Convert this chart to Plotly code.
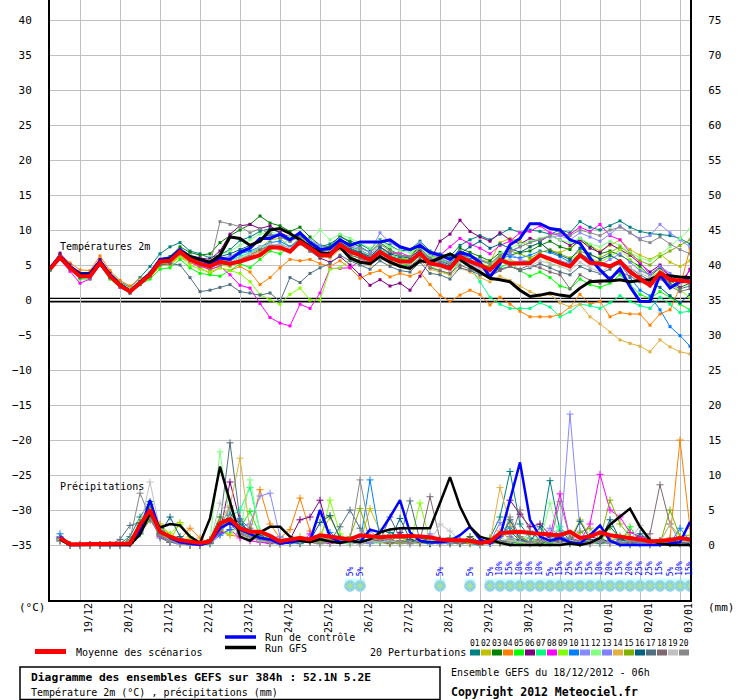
import plotly.graph_objects as go

# one step = 6h, starting 18/12/2012 06h (0 -> 384h)
steps = list(range(65))

day_labels = ["19/12", "20/12", "21/12", "22/12", "23/12", "24/12", "25/12", "26/12",
              "27/12", "28/12", "29/12", "30/12", "31/12", "01/01", "02/01", "03/01"]
day_steps = [3, 7, 11, 15, 19, 23, 27, 31, 35, 39, 43, 47, 51, 55, 59, 63]

# ---- temperature 2m (degC) ----
t_mean = [4.4, 6.1, 4.6, 3.4, 3.4, 5.3, 3.4, 2.1, 1.2, 2.4, 3.6, 5.5, 5.6,
          6.9, 5.8, 5.2, 4.8, 5.5, 5.2, 5.5, 6.0, 6.4, 7.5, 7.5, 6.9, 8.3,
          7.4, 6.4, 6.4, 7.9, 6.9, 6.4, 5.7, 6.9, 6.0, 5.5, 5.5, 6.7, 5.2,
          5.0, 4.5, 6.2, 5.5, 5.0, 4.3, 5.7, 5.2, 5.3, 5.3, 6.4, 5.8, 5.3,
          4.8, 6.4, 5.3, 5.2, 4.8, 5.5, 4.0, 3.1, 2.1, 3.9, 2.9, 2.8, 2.6]
t_ctrl = [4.6, 6.2, 4.8, 3.8, 3.8, 5.6, 3.6, 2.2, 1.3, 2.6, 3.8, 5.8, 6.0,
          7.2, 6.2, 5.8, 5.2, 6.0, 5.8, 6.8, 7.4, 8.8, 8.8, 9.4, 8.6, 9.6,
          8.2, 7.2, 7.4, 8.6, 7.8, 8.3, 8.3, 8.3, 8.6, 7.6, 7.2, 7.8, 6.8,
          6.4, 5.8, 6.8, 6.4, 5.4, 3.3, 5.2, 7.9, 8.8, 10.9, 10.9, 10.2, 10.0,
          8.6, 8.1, 6.0, 4.3, 2.9, 4.5, 1.9, -0.2, -0.2, 3.6, 1.7, 2.6, 3.2]
t_gfs = [4.5, 6.1, 4.7, 3.6, 3.6, 5.4, 3.5, 2.2, 1.2, 2.5, 3.7, 5.6, 5.8,
         7.0, 6.2, 5.8, 5.4, 6.4, 9.0, 8.8, 7.8, 8.4, 10.0, 10.2, 9.5, 8.6,
         7.6, 6.8, 6.6, 7.6, 6.0, 5.4, 5.2, 6.2, 5.4, 4.8, 4.5, 5.6, 5.4,
         6.0, 6.6, 5.8, 4.8, 4.0, 3.1, 2.9, 2.6, 1.4, 0.5, 0.7, 1.0, 0.7,
         0.5, 1.7, 2.6, 2.7, 2.7, 2.9, 2.6, 2.8, 2.9, 3.6, 3.4, 3.3, 3.2]

t01 = [4.6, 6.4, 5.0, 3.8, 3.6, 5.8, 3.9, 2.6, 1.8, 3.2, 4.8, 6.6, 7.6,
       8.2, 7.0, 6.6, 6.0, 6.5, 7.2, 8.5, 9.0, 9.8, 10.2, 9.6, 8.8, 9.4,
       8.4, 7.6, 8.0, 9.0, 8.4, 8.0, 7.2, 8.6, 7.8, 7.0, 7.2, 8.4, 7.0,
       6.6, 6.2, 7.8, 8.6, 9.2, 8.6, 9.4, 10.2, 9.6, 10.0, 9.8, 9.4, 10.0,
       9.6, 11.2, 10.4, 10.0, 10.6, 11.3, 10.4, 9.8, 9.5, 9.3, 9.2, 8.8, 8.0]
t02 = [4.3, 5.9, 4.8, 3.6, 3.9, 5.7, 3.8, 2.4, 1.5, 2.5, 3.2, 4.8, 5.2,
       6.4, 5.6, 5.0, 4.2, 5.0, 4.8, 5.8, 6.5, 7.4, 8.6, 8.8, 7.6, 8.9,
       7.8, 6.6, 6.2, 8.4, 7.2, 6.8, 6.0, 7.6, 6.8, 6.4, 6.0, 7.6, 5.8,
       5.6, 5.2, 7.0, 6.4, 5.8, 5.4, 8.2, 8.8, 8.4, 7.6, 8.2, 7.0, 6.8,
       7.4, 8.4, 7.8, 7.0, 7.8, 8.6, 7.2, 6.4, 5.8, 6.6, 5.4, 4.8, 5.6]
t03 = [4.5, 6.2, 4.7, 3.6, 3.6, 5.4, 3.5, 2.2, 1.3, 2.6, 3.8, 5.8, 6.2,
       7.6, 6.8, 6.4, 6.6, 8.2, 9.2, 10.0, 10.8, 12.0, 11.0, 10.6, 9.8, 10.4,
       9.0, 7.8, 7.6, 9.2, 8.2, 7.6, 6.8, 8.2, 7.2, 6.4, 6.2, 7.8, 6.4,
       5.8, 5.4, 7.4, 6.8, 6.2, 5.6, 6.8, 6.4, 6.8, 7.0, 7.8, 8.4, 7.6,
       7.2, 8.8, 7.8, 6.6, 7.0, 6.4, 5.6, 4.8, 3.4, 4.6, 2.8, 1.8, 2.4]
t04 = [4.8, 6.5, 5.3, 4.3, 4.2, 6.3, 4.2, 2.8, 2.0, 3.0, 3.8, 5.2, 5.0,
       6.2, 5.4, 4.6, 3.8, 4.6, 4.2, 4.8, 4.0, 2.2, 3.2, 4.6, 5.8, 5.6,
       5.8, 5.2, 4.8, 5.6, 4.6, 3.1, 3.8, 4.2, 3.3, 3.8, 3.4, 4.0, 2.2,
       0.7, -0.2, 0.7, 1.4, 0.8, -0.7, 0.4, -0.6, -1.6, -2.4, -2.4, -2.4, -2.1,
       -1.0, 0.8, -0.6, -0.2, -2.4, -1.8, -2.0, -2.0, -3.6, -2.0, -1.4, 1.8, 7.4]
t05 = [4.2, 5.8, 4.4, 3.0, 3.0, 5.0, 3.0, 1.8, 1.0, 2.2, 3.0, 4.4, 4.6,
       5.8, 4.6, 3.8, 3.6, 3.4, 4.2, 5.2, 4.6, 5.8, 7.0, 6.6, 7.6, 8.8,
       7.2, 6.0, 6.4, 7.6, 6.4, 6.0, 5.6, 6.8, 5.8, 5.2, 5.0, 6.4, 4.8,
       4.2, 3.6, 5.6, 5.0, 3.8, 3.6, 4.6, 5.4, 4.2, 3.4, 4.0, 3.2, 2.0,
       1.6, 3.0, 2.2, 1.8, 2.4, 3.6, 2.2, 0.8, 0.2, 1.2, 0.4, -0.6, -1.4]
t06 = [4.6, 6.7, 5.0, 3.8, 3.8, 5.8, 3.8, 2.4, 1.4, 2.6, 3.8, 5.6, 5.8,
       7.2, 6.4, 6.0, 5.8, 7.0, 9.4, 10.6, 10.8, 10.2, 10.6, 9.6, 9.0, 8.6,
       7.0, 6.0, 5.4, 6.2, 5.0, 3.6, 2.1, 2.9, 2.0, 2.4, 1.4, 3.4, 5.6,
       8.4, 9.4, 11.4, 9.8, 9.0, 8.4, 9.6, 8.6, 8.0, 8.8, 8.4, 9.2, 8.6,
       7.8, 8.6, 7.4, 6.8, 8.0, 7.2, 6.4, 5.2, 4.0, 5.0, 3.4, 1.8, 4.4]
t07 = [4.3, 6.0, 4.5, 3.2, 3.2, 5.1, 3.2, 2.0, 1.2, 2.5, 3.6, 5.4, 5.8,
       7.0, 6.0, 5.4, 5.0, 5.8, 5.6, 6.2, 6.8, 7.4, 8.0, 7.6, 8.8, 9.2,
       8.0, 7.4, 7.0, 8.2, 7.6, 7.0, 6.2, 7.4, 6.4, 6.0, 5.8, 6.6, 5.4,
       5.0, 4.4, 5.6, 4.6, 2.6, 0.4, -0.6, -1.2, -1.2, -1.2, -0.4, -1.0, -2.4,
       -1.7, -0.6, -0.8, -1.2, -0.4, 0.6, -0.2, -0.8, -1.2, 0.4, -0.6, -1.8, -1.6]
t08 = [4.4, 5.8, 4.1, 2.4, 3.0, 5.0, 3.2, 1.8, 1.0, 2.4, 3.6, 5.2, 5.4,
       6.6, 5.4, 4.8, 4.4, 4.8, 3.6, 2.1, 1.7, -0.5, -2.5, -3.3, -3.7, -0.6,
       -1.2, 1.0, 4.5, 4.5, 4.6, 5.6, 6.0, 7.6, 6.6, 6.8, 6.2, 7.0, 5.4,
       6.4, 7.6, 8.8, 8.0, 7.4, 6.6, 7.8, 8.4, 9.6, 9.8, 10.6, 9.6, 9.2,
       9.4, 10.4, 9.8, 10.8, 9.2, 8.6, 6.8, 5.4, 3.6, 4.8, 3.2, 2.6, 4.2]
t09 = [4.5, 6.0, 4.5, 3.3, 3.2, 5.2, 3.3, 2.0, 1.1, 2.2, 3.4, 5.0, 5.2,
       6.2, 5.0, 4.4, 4.0, 4.6, 4.2, 3.8, 2.6, 0.8, 0.0, -0.6, 0.8, 1.7,
       0.0, 0.0, 4.4, 4.6, 5.8, 5.2, 5.6, 6.8, 6.0, 5.6, 6.2, 8.2, 6.4,
       5.8, 5.0, 6.4, 6.0, 5.4, 4.6, 6.0, 5.6, 5.2, 5.8, 6.4, 5.2, 4.8,
       5.8, 6.6, 6.0, 5.4, 6.2, 7.2, 5.8, 4.4, 3.4, 4.0, 2.2, 1.4, 0.4]
t10 = [4.4, 6.0, 4.6, 3.4, 3.4, 5.4, 3.4, 2.1, 1.2, 2.4, 3.6, 5.6, 5.8,
       7.0, 6.0, 5.6, 5.2, 6.0, 5.8, 6.6, 7.0, 7.6, 8.2, 8.4, 7.6, 8.6,
       7.6, 6.8, 6.8, 8.0, 7.2, 6.8, 6.0, 7.2, 6.2, 5.8, 5.6, 7.0, 5.6,
       5.4, 4.8, 6.6, 6.0, 5.8, 5.0, 6.4, 6.2, 6.0, 6.4, 7.0, 6.8, 6.2,
       5.4, 6.6, 5.8, 5.0, 4.8, 5.2, 3.2, 1.4, 0.6, -1.4, -3.8, -5.1, -6.6]
t11 = [4.5, 6.2, 4.8, 3.6, 3.6, 5.5, 3.6, 2.2, 1.4, 2.6, 3.8, 5.6, 5.8,
       7.0, 6.2, 5.8, 5.4, 6.0, 6.2, 7.0, 7.6, 8.4, 9.2, 9.4, 8.6, 9.4,
       8.6, 7.8, 7.2, 8.8, 7.8, 7.4, 6.8, 9.6, 8.2, 7.4, 7.0, 8.2, 6.6,
       6.0, 5.4, 6.6, 6.4, 5.8, 5.2, 6.2, 6.8, 7.6, 8.2, 8.8, 9.0, 9.2,
       8.6, 9.6, 9.0, 8.4, 9.4, 10.6, 9.6, 8.8, 9.2, 10.8, 9.6, 8.6, 7.6]
t12 = [4.6, 6.2, 4.8, 3.5, 3.6, 5.4, 3.6, 2.4, 1.6, 2.8, 4.0, 5.8, 6.0,
       7.2, 6.4, 5.8, 5.6, 6.4, 7.0, 7.8, 8.6, 9.4, 9.8, 9.2, 9.0, 9.6,
       8.4, 10.0, 8.6, 9.4, 8.8, 8.2, 7.4, 8.4, 7.6, 7.0, 6.8, 7.6, 6.2,
       5.8, 5.2, 6.8, 6.2, 5.6, 5.0, 6.6, 7.4, 8.0, 8.4, 8.8, 9.2, 8.6,
       8.2, 8.8, 8.0, 7.6, 8.4, 7.8, 6.8, 6.0, 5.6, 6.4, 7.6, 8.8, 10.1]
t13 = [4.4, 6.1, 4.5, 3.3, 3.4, 5.2, 3.3, 2.0, 1.2, 2.4, 3.6, 5.4, 5.6,
       6.8, 5.8, 5.2, 4.8, 5.4, 5.2, 5.8, 6.2, 7.0, 7.8, 8.0, 7.4, 8.8,
       7.6, 6.8, 6.6, 7.8, 7.0, 6.4, 5.8, 7.0, 6.0, 5.6, 5.4, 6.8, 5.0,
       4.8, 4.2, 6.0, 5.2, 4.6, 4.0, 5.4, 6.6, 5.8, 5.4, 6.4, 6.0, 5.6,
       5.2, 6.4, 5.6, 5.0, 5.8, 6.6, 5.4, 4.2, 3.6, 4.8, 3.8, 3.0, 2.4]
t14 = [4.5, 6.0, 4.6, 3.4, 3.4, 5.2, 3.4, 2.0, 1.3, 2.6, 3.8, 5.2, 5.4,
       6.4, 5.4, 5.0, 4.6, 5.2, 5.0, 5.6, 6.2, 7.0, 7.6, 7.2, 7.0, 8.0,
       7.0, 6.2, 6.0, 7.2, 6.2, 5.6, 5.0, 6.2, 5.2, 4.8, 4.6, 5.6, 4.4,
       4.0, 3.6, 4.6, 4.0, 3.2, 2.6, 3.4, 2.8, 2.0, 1.2, 0.6, 0.8, -0.4,
       -1.0, -0.6, -2.4, -3.4, -4.6, -5.7, -6.2, -6.6, -7.4, -5.7, -6.7, -7.4, -7.7]
t15 = [4.3, 5.9, 4.4, 3.2, 3.3, 5.1, 3.3, 2.0, 1.2, 2.3, 3.4, 5.2, 5.4,
       6.6, 5.6, 5.0, 4.6, 5.2, 5.0, 5.6, 6.0, 6.6, 7.4, 7.8, 7.0, 8.4,
       7.2, 6.4, 6.2, 7.6, 6.8, 6.2, 5.6, 7.0, 6.2, 5.8, 5.6, 6.8, 5.4,
       5.0, 4.6, 6.0, 5.6, 5.0, 4.8, 6.2, 7.0, 6.6, 6.0, 6.8, 7.2, 6.6,
       6.0, 7.0, 6.4, 6.0, 6.8, 7.6, 6.6, 5.6, 5.0, 6.2, 7.0, 7.8, 8.6]
t16 = [4.4, 6.2, 4.6, 3.4, 3.5, 5.3, 3.5, 2.2, 1.3, 2.6, 3.8, 5.6, 5.8,
       7.2, 6.2, 5.8, 5.4, 6.2, 6.6, 7.2, 7.8, 8.6, 9.4, 9.0, 8.4, 9.2,
       8.2, 7.2, 7.0, 8.2, 7.4, 6.8, 6.2, 7.6, 6.6, 6.2, 6.0, 7.2, 5.8,
       5.6, 5.0, 6.6, 7.6, 8.4, 7.4, 8.0, 7.4, 6.8, 7.6, 8.2, 7.0, 6.4,
       5.8, 7.4, 6.6, 5.8, 6.4, 5.6, 4.4, 3.2, 2.6, 1.8, 0.6, -0.4, 0.8]
t17 = [4.3, 5.8, 4.4, 3.2, 3.2, 5.0, 3.2, 1.9, 1.0, 2.2, 3.4, 5.0, 5.2,
       5.0, 3.2, 1.2, 1.4, 1.8, 2.2, 1.2, 1.0, 0.7, 1.0, -0.2, 3.2, 2.5,
       3.8, 4.6, 5.2, 6.4, 5.6, 5.0, 4.4, 5.6, 4.8, 4.2, 4.0, 5.4, 3.8,
       3.6, 3.0, 4.6, 4.2, 3.6, 3.4, 4.4, 4.8, 4.2, 4.6, 5.2, 4.6, 4.0,
       3.6, 4.8, 4.2, 3.8, 4.4, 5.4, 4.6, 3.6, 2.8, 3.6, 2.4, 1.6, 2.0]
t18 = [4.4, 6.0, 4.5, 3.3, 3.3, 5.2, 3.3, 2.0, 1.1, 2.3, 3.5, 5.3, 5.5,
       6.6, 5.6, 5.0, 4.6, 5.2, 5.0, 5.8, 6.4, 7.2, 7.8, 7.6, 7.2, 8.0,
       7.0, 6.2, 6.2, 7.4, 6.4, 6.0, 5.2, 6.4, 5.6, 5.0, 4.8, 6.0, 4.6,
       4.2, 3.8, 5.0, 4.4, 3.8, 3.4, 4.2, 4.8, 4.4, 5.0, 4.6, 4.0, 3.6,
       1.6, 3.6, 2.8, 2.4, 3.2, 4.0, 3.4, 2.6, 2.0, 3.0, 2.0, 1.2, 1.6]
t19 = [4.5, 6.1, 4.7, 3.5, 3.5, 5.4, 3.5, 2.2, 1.3, 2.5, 3.7, 5.5, 5.7,
       6.8, 5.8, 5.2, 4.8, 5.6, 5.4, 6.0, 6.6, 7.6, 8.0, 7.8, 7.4, 8.2,
       7.4, 6.6, 6.4, 7.6, 6.8, 6.4, 5.6, 6.8, 6.0, 5.4, 5.2, 6.6, 5.0,
       4.6, 4.2, 5.6, 5.0, 4.4, 3.8, 5.2, 5.8, 5.2, 4.8, 5.6, 5.2, 4.8,
       4.2, 5.4, 4.6, 4.0, 4.8, 5.4, 4.6, 3.8, 3.2, 4.0, 3.0, 2.2, 2.8]
t20 = [4.4, 6.0, 4.6, 3.4, 3.4, 5.3, 3.4, 2.1, 1.2, 2.4, 3.6, 5.5, 5.6,
       6.8, 5.8, 5.2, 5.0, 11.2, 10.8, 10.5, 9.6, 10.2, 9.4, 9.0, 8.4, 9.0,
       8.0, 7.2, 7.0, 8.4, 7.6, 7.2, 6.4, 8.0, 7.0, 6.4, 6.2, 7.4, 6.0,
       5.6, 5.2, 7.0, 6.4, 5.6, 5.2, 6.4, 7.0, 7.6, 8.2, 8.6, 9.2, 9.6,
       9.2, 10.0, 9.6, 9.2, 10.0, 10.4, 9.6, 8.6, 8.2, 9.0, 8.0, 7.2, 6.6]

# ---- precipitation per 6h (mm), steps 1..64 ----
r_mean = [1.0, 0.1, 0.1, 0.1, 0.1, 0.1, 0.1, 0.2, 2.9, 5.0, 1.9, 1.2, 0.7, 0.5, 0.3, 0.5,
          3.1, 3.7, 2.4, 1.9, 1.9, 1.3, 0.5, 0.8, 1.0, 0.8, 1.4, 1.2, 1.0, 0.8, 1.4, 1.3,
          1.1, 1.2, 1.3, 1.3, 1.2, 1.1, 0.8, 0.7, 0.7, 0.6, 0.3, 0.5, 1.7, 1.8, 1.9, 1.7,
          1.6, 1.6, 1.4, 1.9, 1.0, 1.2, 1.8, 1.4, 1.2, 1.1, 0.8, 0.5, 0.6, 0.7, 1.0, 0.8]
r_ctrl = [1.2, 0, 0, 0.2, 0, 0, 0, 0, 2.0, 6.4, 2.0, 1.0, 0.4, 0.2, 0, 0.4,
          2.4, 3.2, 2.2, 1.6, 1.0, 0.8, 0.2, 0.4, 0.6, 0.6, 5.0, 1.2, 0.4, 0.6, 0.4, 2.2,
          1.8, 4.0, 6.4, 1.8, 0.6, 0.4, 0.4, 0.6, 1.4, 2.6, 0.8, 0.2, 1.2, 6.4, 11.8, 3.6,
          1.2, 0.6, 1.0, 0.4, 0.2, 1.4, 2.8, 0.6, 0, 0, 0, 0, 0, 0.2, 0.4, 3.3]
r_gfs = [0.8, 0, 0, 0, 0, 0, 0, 0, 1.5, 4.5, 2.5, 3.0, 2.8, 1.2, 0.3, 3.8,
         11.2, 6.0, 1.2, 0.6, 1.8, 2.6, 2.6, 1.2, 0.6, 0.4, 0.8, 0.5, 0.3, 0.6, 0.4, 0.8,
         1.8, 2.2, 2.4, 2.4, 2.4, 2.4, 6.0, 9.7, 5.5, 2.6, 1.2, 0.7, 0.3, 0, 0, 0,
         0, 0, 0, 0.2, 0, 0.3, 1.0, 2.9, 4.0, 5.2, 2.6, 0.7, 0.2, 0, 0, 0]

r01 = [1.0, 0, 0, 0, 0, 0, 0.2, 1.2, 4.0, 6.2, 2.0, 0.8, 0.4, 0.2, 0, 0.6,
       3.0, 4.2, 2.0, 1.2, 0.8, 0.4, 0.2, 0.6, 0.8, 0.4, 1.0, 0.6, 0.4, 0.2, 0.8, 0.6,
       0.4, 1.8, 1.2, 0.6, 0.4, 0.2, 0.8, 1.0, 0.4, 0.2, 0, 1.0, 4.0, 10.5, 3.0, 1.0,
       0.6, 9.2, 2.0, 0.8, 0.4, 0.6, 1.0, 0.4, 0.2, 0, 0.2, 0.4, 0.2, 0.6, 0.4, 0.2]
r02 = [0.8, 0, 0, 0, 0, 0, 0, 0.4, 2.4, 4.8, 1.8, 0.6, 3.2, 1.0, 0.2, 0.4,
       2.6, 3.6, 2.4, 1.4, 1.0, 0.6, 0.2, 0.4, 1.2, 0.6, 1.4, 4.0, 1.0, 0.6, 0.4, 5.2,
       2.0, 0.8, 1.0, 0.6, 0.4, 0.8, 0.4, 0.2, 0.6, 0.4, 0.2, 1.0, 1.4, 2.6, 1.2, 0.6,
       0.8, 1.4, 0.4, 0.8, 3.6, 1.2, 1.6, 0.8, 1.0, 1.8, 1.2, 0.6, 0.4, 3.0, 1.2, 1.4]
r03 = [1.0, 0, 0, 0, 0, 0, 0, 0.6, 3.2, 5.2, 2.8, 1.0, 0.6, 0.2, 0, 0.8,
       4.0, 3.0, 1.6, 1.0, 0.6, 0.2, 0.2, 0.4, 0.6, 1.0, 0.8, 0.6, 0.4, 0.2, 0.4, 0.2,
       0.6, 0.4, 0.2, 0.4, 1.0, 0.6, 0.4, 0.2, 0.4, 1.2, 0.4, 0.2, 1.4, 2.0, 0.6, 0.2,
       0.4, 0.6, 1.2, 0.8, 0.4, 0.2, 0.6, 2.6, 1.0, 0.4, 0.2, 0, 0.2, 0.4, 0.2, 0.4]
r04 = [0.8, 0, 0, 0, 0, 0, 0, 0.4, 2.6, 4.2, 3.0, 1.4, 0.8, 2.4, 1.0, 0.2,
       2.0, 1.4, 1.2, 1.8, 7.9, 3.0, 1.0, 2.2, 6.7, 2.0, 0.6, 1.2, 0.4, 0.2, 0.6, 0.8,
       0.4, 0.2, 0.6, 0.4, 0.2, 0.6, 0.4, 0.2, 0.4, 0.2, 0.4, 0.4, 2.0, 0.8, 0.4, 0.2,
       0.6, 0.4, 1.0, 0.4, 0.2, 0.6, 0.4, 0.2, 0.4, 0.6, 0.2, 0.4, 0.6, 1.0, 15.0, 2.4]
r05 = [0.6, 0, 0, 0, 0, 0, 0, 0.2, 1.6, 3.8, 2.2, 0.8, 0.4, 0.2, 0, 0.4,
       2.4, 3.4, 2.4, 4.8, 1.4, 0.6, 0.2, 0.4, 0.2, 0.6, 0.4, 0.2, 0.6, 0.4, 0.2, 0.8,
       0.6, 0.2, 0.4, 0.8, 0.4, 0.2, 0.4, 0.2, 0.6, 0.4, 0.2, 0.2, 0.6, 0.4, 0.2, 0.6,
       0.4, 0.2, 0.4, 0.2, 0.6, 0.4, 0.2, 0.4, 0.2, 2.6, 0.4, 0.2, 0.4, 0.2, 0.6, 0.4]
r06 = [0.8, 0, 0, 0, 0, 0, 0, 0.4, 2.2, 4.0, 1.6, 0.6, 0.2, 0, 0, 0.2,
       1.8, 9.0, 3.4, 1.4, 0.8, 0.6, 0.2, 0.8, 3.6, 4.0, 6.4, 1.0, 0.6, 0.4, 0.8, 0.4,
       0.6, 0.4, 1.8, 0.6, 0.4, 0.2, 0.4, 0.2, 0.6, 0.8, 0.4, 0.6, 1.2, 6.4, 4.4, 2.6,
       3.0, 1.4, 0.8, 0.4, 0.6, 1.2, 0.8, 0.4, 0.6, 0.4, 0.2, 0.4, 0.6, 0.4, 0.2, 0.4]
r07 = [1.0, 0, 0, 0, 0, 0, 0, 0.6, 3.0, 4.6, 1.8, 0.8, 0.2, 0, 0, 0.2,
       3.0, 4.0, 5.0, 8.2, 2.0, 0.8, 0.4, 0.2, 0.6, 0.4, 0.2, 0.6, 0.4, 0.2, 0.4, 0.6,
       0.4, 0.2, 0.6, 0.4, 0.2, 0.4, 0.6, 0.4, 0.2, 0.4, 0.2, 0.6, 0.4, 0.8, 0.4, 1.8,
       0.6, 0.4, 2.6, 1.0, 0.4, 0.2, 0.6, 0.4, 0.2, 0.4, 0.2, 0.4, 0.2, 0.4, 0.2, 0.4]
r08 = [1.2, 0, 0, 0, 0, 0, 0, 0.4, 2.0, 5.0, 1.2, 0.4, 0.2, 0, 0, 0.4,
       1.6, 2.2, 1.0, 0.6, 0.4, 0.2, 0.6, 0.4, 0.2, 1.6, 0.4, 0.2, 0.6, 0.4, 0.2, 0.8,
       0.4, 0.6, 0.4, 0.2, 0.6, 0.4, 0.2, 0.6, 0.4, 0.8, 0.2, 0.4, 0.6, 0.4, 0.8, 0.4,
       0.6, 1.2, 7.3, 1.0, 0.6, 3.0, 10.1, 5.0, 4.0, 1.8, 1.2, 0.6, 0.4, 0.6, 0.4, 0.2]
r09 = [0.8, 0, 0, 0, 0, 0, 0, 0.2, 2.0, 3.6, 2.8, 1.6, 3.0, 1.2, 0.4, 0.2,
       2.2, 1.6, 2.8, 1.2, 0.6, 0.4, 0.8, 0.4, 0.2, 0.6, 0.4, 6.4, 1.6, 0.4, 0.2, 0.6,
       1.0, 0.6, 0.4, 0.2, 6.0, 0.6, 0.4, 0.6, 0.2, 0.4, 0.2, 0.6, 0.4, 1.0, 0.6, 0.4,
       0.2, 0.4, 0.6, 0.2, 0.4, 0.6, 0.4, 0.2, 1.4, 0.6, 0.2, 0.4, 0.6, 0.2, 0.4, 0.6]
r10 = [1.6, 0, 0, 0, 0, 0, 0, 0.4, 2.8, 5.8, 1.4, 0.6, 0.2, 0, 0, 0.2,
       1.4, 2.2, 3.8, 1.2, 0.6, 0.4, 0.2, 0.4, 0.2, 0.6, 0.4, 1.8, 0.6, 0.4, 0.2, 9.3,
       1.0, 0.4, 0.6, 0.2, 0.4, 0.2, 0.6, 0.4, 0.2, 0.4, 0.6, 0.2, 1.4, 2.6, 0.8, 0.4,
       0.6, 0.4, 1.2, 0.6, 0.2, 0.4, 0.6, 0.4, 0.2, 0.4, 0.2, 0.4, 0.6, 0.2, 2.4, 0.6]
r11 = [0.6, 0, 0, 0, 0, 0, 0, 0.4, 1.8, 4.2, 1.6, 0.4, 0.2, 0, 0, 0.4,
       2.8, 3.6, 2.6, 3.0, 7.0, 7.4, 1.2, 0.6, 0.4, 1.0, 0.6, 0.4, 0.2, 0.4, 0.6, 0.2,
       0.4, 0.6, 0.4, 0.2, 0.6, 0.4, 0.2, 0.4, 0.6, 0.4, 0.2, 0.6, 0.4, 0.8, 0.4, 0.6,
       0.4, 0.6, 0.4, 18.7, 2.0, 0.6, 0.4, 0.2, 0.6, 0.4, 0.2, 0.4, 0.6, 0.4, 0.2, 0.4]
r12 = [1.0, 0, 0, 0, 0, 0, 0, 0.6, 3.4, 6.0, 1.8, 0.6, 0.2, 0, 0, 0.6,
       13.3, 3.6, 2.0, 9.3, 2.0, 0.6, 0.4, 0.2, 0.6, 0.4, 0.2, 0.6, 0.4, 0.2, 0.6, 0.4,
       0.2, 0.6, 0.4, 0.2, 0.4, 0.6, 0.4, 0.2, 0.6, 0.4, 0.2, 0.4, 0.6, 0.4, 0.8, 0.6,
       0.4, 6.0, 0.8, 0.4, 0.6, 0.4, 0.2, 0.6, 0.4, 0.8, 0.4, 0.2, 0.6, 0.4, 0.8, 0.4]
r13 = [0.8, 0, 0, 0, 0, 0, 0, 0.2, 2.0, 4.4, 1.4, 0.4, 0.2, 0, 0, 0.4,
       2.2, 3.0, 1.6, 1.0, 0.6, 0.4, 0.2, 0.4, 0.6, 0.4, 0.2, 0.4, 0.6, 0.4, 0.2, 0.4,
       0.6, 0.4, 0.2, 0.6, 0.4, 1.6, 0.4, 0.2, 0.6, 0.4, 0.2, 0.4, 3.2, 1.2, 0.6, 0.4,
       0.6, 2.4, 1.4, 0.6, 0.4, 0.2, 0.6, 0.4, 1.2, 0.6, 0.4, 0.2, 0.4, 0.6, 0.4, 0.2]
r14 = [0.8, 0, 0, 0, 0, 0, 0, 0.4, 2.4, 4.8, 1.6, 0.6, 0.4, 0.2, 0, 0.4,
       3.4, 5.6, 12.4, 2.0, 0.8, 0.4, 0.2, 0.4, 0.6, 0.4, 0.2, 0.4, 0.6, 0.4, 0.2, 0.6,
       0.4, 0.2, 0.6, 0.4, 0.2, 0.4, 0.6, 0.4, 0.2, 0.4, 0.6, 0.4, 8.2, 3.0, 1.0, 0.4,
       0.6, 0.4, 0.2, 0.6, 0.4, 0.2, 0.6, 0.4, 0.2, 0.4, 0.6, 0.2, 0.4, 0.2, 0.6, 0.4]
r15 = [0.8, 0, 0, 0, 0, 0, 0, 0.6, 3.0, 5.4, 2.4, 0.8, 0.4, 0.2, 0, 0.6,
       2.6, 3.4, 2.0, 1.2, 0.8, 0.4, 0.2, 0.6, 0.4, 0.6, 0.4, 0.8, 0.6, 1.2, 5.2, 0.8,
       0.6, 0.4, 0.2, 0.4, 0.6, 0.4, 0.2, 0.6, 0.4, 0.2, 0.6, 0.4, 0.2, 0.6, 0.4, 0.2,
       0.4, 0.6, 0.4, 0.6, 1.8, 2.4, 0.8, 6.4, 3.0, 1.2, 0.4, 0.6, 0.2, 5.0, 1.2, 0.6]
r16 = [1.0, 0, 0, 0, 0, 0, 0, 0.4, 2.2, 4.6, 1.6, 4.0, 1.2, 0.2, 0, 0.4,
       2.6, 4.4, 3.0, 2.0, 1.4, 0.8, 0.6, 0.4, 0.8, 0.6, 3.2, 4.2, 1.0, 0.6, 0.4, 0.6,
       0.4, 0.6, 3.8, 0.8, 0.4, 0.2, 0.6, 0.4, 0.2, 0.4, 0.6, 0.4, 0.6, 3.6, 0.8, 0.4,
       2.6, 0.8, 0.6, 0.4, 3.4, 0.8, 0.6, 3.6, 0.8, 0.4, 1.6, 0.6, 0.4, 0.6, 0.4, 0.2]
r17 = [0.8, 0, 0, 0, 0, 0, 0.8, 2.8, 3.2, 4.2, 1.0, 0.4, 0.2, 0, 0, 0.6,
       3.0, 14.6, 3.6, 2.4, 1.2, 0.6, 0.4, 0.2, 0.6, 0.4, 0.8, 0.6, 2.6, 5.0, 2.4, 0.8,
       0.6, 4.0, 1.0, 6.3, 0.6, 0.4, 0.2, 0.4, 0.6, 0.4, 0.2, 0.6, 0.4, 0.2, 0.6, 0.4,
       0.2, 0.6, 0.4, 0.2, 0.6, 0.4, 0.2, 0.6, 0.4, 0.2, 0.4, 0.6, 0.4, 0.2, 0.6, 0.4]
r18 = [0.6, 0, 0, 0, 0, 0, 0, 0.2, 1.6, 3.6, 1.4, 0.6, 0.2, 0, 0, 0.4,
       2.0, 3.2, 1.8, 1.0, 0.6, 0.4, 0.2, 0.4, 0.6, 0.4, 0.2, 0.4, 0.6, 0.4, 0.2, 0.6,
       0.4, 0.2, 0.6, 0.4, 0.6, 6.9, 0.8, 0.4, 0.2, 0.6, 0.4, 0.2, 0.4, 0.6, 5.0, 2.0,
       0.8, 0.4, 0.6, 0.4, 0.2, 0.4, 0.6, 0.4, 0.2, 0.4, 0.6, 1.6, 8.6, 3.0, 0.4, 0.6]
r19 = [0.8, 0, 0, 0, 0, 0, 0, 0.4, 2.4, 9.0, 2.2, 0.6, 0.2, 0, 0, 0.4,
       6.0, 4.0, 2.0, 1.0, 0.6, 0.4, 0.2, 0.4, 0.6, 0.4, 0.2, 0.4, 0.6, 0.4, 0.2, 0.6,
       0.4, 0.6, 0.4, 0.2, 0.6, 0.4, 3.0, 2.0, 0.6, 0.4, 0.2, 0.4, 1.0, 0.6, 0.4, 0.2,
       0.6, 0.4, 0.2, 0.6, 0.4, 0.2, 0.6, 0.4, 0.2, 0.6, 2.8, 0.8, 0.4, 3.0, 0.6, 0.4]
r20 = [0.6, 0, 0, 0, 0, 0, 0, 0.8, 7.4, 4.0, 1.4, 0.6, 0.2, 0, 0, 0.4,
       2.6, 5.4, 2.0, 1.2, 0.8, 0.4, 0.2, 0.4, 0.6, 0.4, 0.2, 0.6, 0.4, 0.8, 9.3, 2.0,
       0.8, 0.8, 0.4, 0.2, 0.6, 0.4, 0.2, 0.4, 0.6, 0.4, 0.2, 0.4, 0.6, 4.0, 1.2, 0.4,
       0.6, 0.4, 6.2, 1.0, 0.4, 0.2, 0.6, 0.4, 0.2, 0.6, 0.4, 0.2, 0.6, 0.4, 0.2, 0.4]

pert_colors = ["#008080", "#c0c000", "#008000", "#ff8000", "#00ff00", "#800080", "#00ff80",
               "#ff00ff", "#80ff00", "#0080ff", "#8888ff", "#80ff80", "#7f7fff", "#e0b040",
               "#80b000", "#006080", "#507080", "#806870", "#c0c0c0", "#888888"]
pert_names = ["01", "02", "03", "04", "05", "06", "07", "08", "09", "10",
              "11", "12", "13", "14", "15", "16", "17", "18", "19", "20"]

# snow probability (steps with snow risk)
snow_steps = [30, 31, 39, 42, 44, 45, 46, 47, 48, 49, 50, 51, 52, 53, 54,
              55, 56, 57, 58, 59, 60, 61, 62, 63, 64]
snow_pct = [5, 5, 5, 5, 5, 10, 15, 10, 10, 10, 5, 15, 25, 15, 15,
            10, 20, 15, 20, 25, 25, 15, 5, 10, 15]

temps = [t01, t02, t03, t04, t05, t06, t07, t08, t09, t10,
         t11, t12, t13, t14, t15, t16, t17, t18, t19, t20]
rains = [r01, r02, r03, r04, r05, r06, r07, r08, r09, r10,
         r11, r12, r13, r14, r15, r16, r17, r18, r19, r20]

FONT = "DejaVu Sans Mono"


def xp(px):
    return (px - 50) / 640


def yp(py):
    return (600 - py) / 600


fig = go.Figure()

for t, c in zip(temps, pert_colors):
    fig.add_trace(go.Scatter(x=steps, y=t, mode="lines+markers",
                             line=dict(color=c, width=1),
                             marker=dict(color=c, size=3, symbol="square"),
                             hoverinfo="skip"))

for r, c in zip(rains, pert_colors):
    fig.add_trace(go.Scatter(x=steps[1:], y=r, yaxis="y2", mode="lines+markers",
                             line=dict(color=c, width=1),
                             marker=dict(symbol="cross-thin", size=5, line=dict(color=c, width=1)),
                             hoverinfo="skip"))

for t, r, c in [(t_ctrl, r_ctrl, "#0000ff"), (t_gfs, r_gfs, "#000000")]:
    fig.add_trace(go.Scatter(x=steps, y=t, mode="lines", line=dict(color=c, width=3)))
    fig.add_trace(go.Scatter(x=steps[1:], y=r, yaxis="y2", mode="lines", line=dict(color=c, width=2.5)))

fig.add_trace(go.Scatter(x=steps, y=t_mean, mode="lines", line=dict(color="#ff0000", width=4)))
fig.add_trace(go.Scatter(x=steps[1:], y=r_mean, yaxis="y2", mode="lines", line=dict(color="#ff0000", width=4)))

# snowflakes
flake_y = [-5.85] * len(snow_steps)
fig.add_trace(go.Scatter(x=snow_steps, y=flake_y, yaxis="y2", mode="markers",
                         marker=dict(symbol="circle", size=11, color="#80ccf4",
                                     line=dict(color="#a8dcf8", width=1))))
fig.add_trace(go.Scatter(x=snow_steps, y=flake_y, yaxis="y2", mode="markers",
                         marker=dict(symbol="asterisk-open", size=8, line=dict(color="white", width=1))))

annotations = []
shapes = []
for s, p in zip(snow_steps, snow_pct):
    annotations.append(dict(x=s, y=-4.75, xref="x", yref="y2", text=str(p) + "%",
                            textangle=-90, showarrow=False, yanchor="bottom",
                            font=dict(family=FONT, size=8, color="#0000ff")))
    shapes.append(dict(type="rect", xref="x", yref="y2", x0=s - 0.5, x1=s + 0.5,
                       y0=-5.6, y1=-4.8, fillcolor="#c8ffff", line=dict(width=0), layer="below"))

for d, s in zip(day_labels, day_steps):
    annotations.append(dict(x=s, y=0, xref="x", yref="paper", text=d, textangle=-90,
                            showarrow=False, yanchor="top", xshift=8, yshift=-1,
                            font=dict(family=FONT, size=10)))


def label(px, py, text, size=10, bold=False, anchor="left"):
    if bold:
        text = "<b>" + text + "</b>"
    annotations.append(dict(x=xp(px), y=yp(py), xref="paper", yref="paper", text=text,
                            showarrow=False, xanchor=anchor, yanchor="middle",
                            font=dict(family=FONT, size=size, color="black")))


label(58, 246, "Températures 2m")
label(58, 486, "Précipitations")
label(32, 607, "(°C)", 11, anchor="center")
label(721, 607, "(mm)", 11, anchor="center")
label(74, 652, "Moyenne des scénarios")
label(263, 637, "Run de contrôle")
label(263, 648, "Run GFS")
label(368, 652, "20 Perturbations")
label(29, 677, "Diagramme des ensembles GEFS sur 384h : 52.1N 5.2E", 11.3, bold=True)
label(29, 692, "Température 2m (°C) , précipitations (mm)")
label(449, 672, "Ensemble GEFS du 18/12/2012 - 06h")
label(449, 692, "Copyright 2012 Meteociel.fr", 11.5, bold=True)

for k, (n, c) in enumerate(zip(pert_names, pert_colors)):
    x0 = 470 + 11 * k
    shapes.append(dict(type="rect", xref="paper", yref="paper", x0=xp(x0), x1=xp(x0 + 10),
                       y0=yp(655.5), y1=yp(649.5), fillcolor=c, line=dict(width=0)))
    label(x0 + 5, 643.5, n, 8, anchor="center")

for x0, x1, py, c, w in [(35, 66, 651.5, "#ff0000", 5), (225, 256, 637, "#0000ff", 3.5),
                         (225, 256, 647.5, "#000000", 3.5)]:
    shapes.append(dict(type="line", xref="paper", yref="paper", x0=xp(x0), x1=xp(x1),
                       y0=yp(py), y1=yp(py), line=dict(color=c, width=w)))

shapes.append(dict(type="rect", xref="paper", yref="paper", x0=xp(20), x1=xp(440),
                   y0=yp(667), y1=yp(699.5), line=dict(color="black", width=1.5)))

# double zero line
for yv in [0.22, -0.25]:
    shapes.append(dict(type="line", xref="paper", yref="y", x0=0, x1=1, y0=yv, y1=yv,
                       line=dict(color="black", width=1.3), layer="below"))

fig.update_layout(
    width=740, height=700,
    margin=dict(l=50, r=50, t=0, b=100),
    plot_bgcolor="white", paper_bgcolor="white",
    showlegend=False,
    font=dict(family=FONT, size=11, color="black"),
    annotations=annotations,
    shapes=shapes,
    xaxis=dict(range=[0, 64], tickvals=day_steps, showticklabels=False, ticks="",
               showgrid=True, gridcolor="#c0c0c0", gridwidth=1, zeroline=False,
               showline=True, linecolor="black", linewidth=2),
    yaxis=dict(range=[-300 / 7, 300 / 7], tickvals=list(range(-35, 45, 5)), ticks="",
               showgrid=True, gridcolor="#c0c0c0", gridwidth=1, zeroline=False,
               showline=True, linecolor="black", linewidth=2, ticklabelstandoff=14),
    yaxis2=dict(range=[-300 / 7 + 35, 300 / 7 + 35], tickvals=list(range(0, 80, 5)), ticks="",
                overlaying="y", side="right", showgrid=False, zeroline=False,
                showline=True, linecolor="black", linewidth=2, ticklabelstandoff=14),
)

# the page's default 8px body margin would shift the whole picture
fig.write_html("out.html", config={"displayModeBar": False},
               post_script="document.body.style.margin='0';")
